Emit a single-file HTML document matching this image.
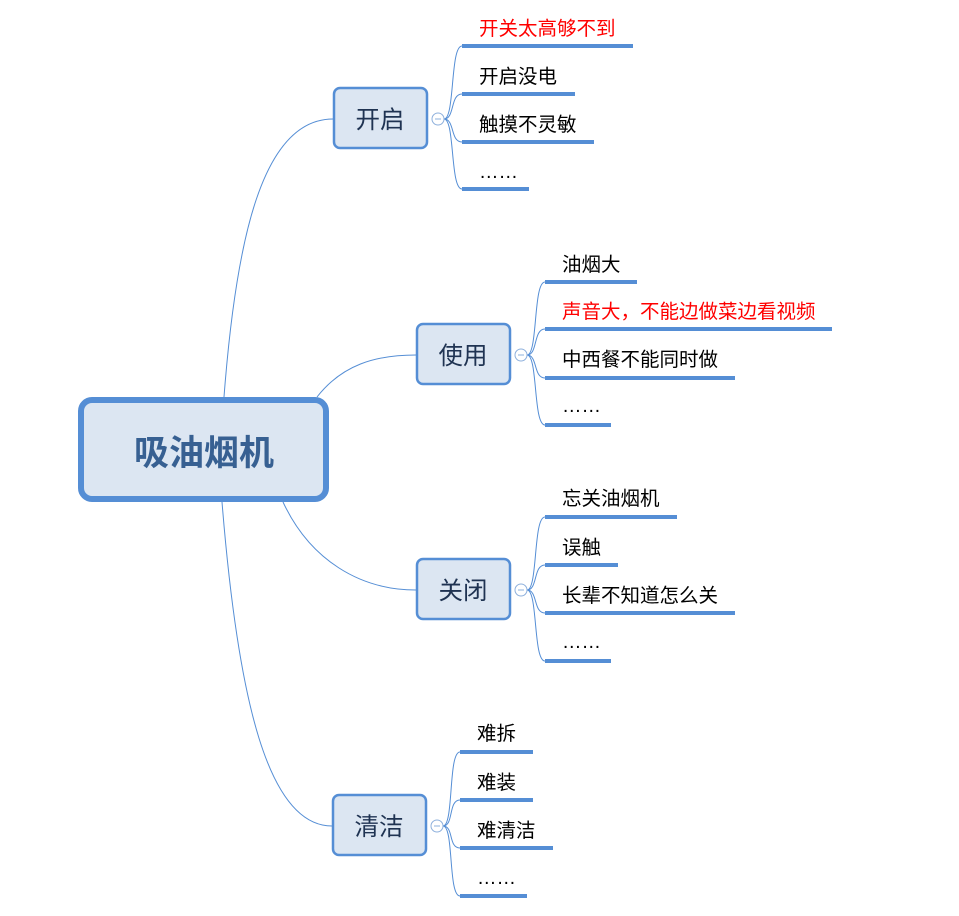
<!DOCTYPE html>
<html><head><meta charset="utf-8"><style>
html,body{margin:0;padding:0;background:#fff;}
svg{display:block;}
text{font-family:"Liberation Sans","Noto Sans CJK SC",sans-serif;}
</style></head><body>
<svg width="959" height="916" viewBox="0 0 959 916" xmlns="http://www.w3.org/2000/svg">
<g fill="none" stroke="#558ed5" stroke-width="1">
<path d="M224,397 C236,240 262,119 333,119"/>
<path d="M317,397 C342,365 375,355 416,355"/>
<path d="M283,502 C310,560 360,590 416,590"/>
<path d="M222,502 C238,700 268,826 332,826"/>
<path d="M444,119 C455,119 450,46 462,46"/>
<path d="M444,119 C455,119 450,94 462,94"/>
<path d="M444,119 C455,119 450,142 462,142"/>
<path d="M444,119 C455,119 450,189 462,189"/>
<path d="M527,355 C538,355 533,282 545,282"/>
<path d="M527,355 C538,355 533,329 545,329"/>
<path d="M527,355 C538,355 533,378 545,378"/>
<path d="M527,355 C538,355 533,425 545,425"/>
<path d="M527,590 C538,590 533,517 545,517"/>
<path d="M527,590 C538,590 533,565 545,565"/>
<path d="M527,590 C538,590 533,613 545,613"/>
<path d="M527,590 C538,590 533,661 545,661"/>
<path d="M443,826 C454,826 448,752 460,752"/>
<path d="M443,826 C454,826 448,800 460,800"/>
<path d="M443,826 C454,826 448,848 460,848"/>
<path d="M443,826 C454,826 448,896 460,896"/>
</g>
<g stroke="#558ed5" stroke-width="4">
<line x1="462" y1="46" x2="633" y2="46"/>
<line x1="462" y1="94" x2="575" y2="94"/>
<line x1="462" y1="142" x2="594" y2="142"/>
<line x1="462" y1="189" x2="529" y2="189"/>
<line x1="545" y1="282" x2="637" y2="282"/>
<line x1="545" y1="329" x2="832" y2="329"/>
<line x1="545" y1="378" x2="735" y2="378"/>
<line x1="545" y1="425" x2="611" y2="425"/>
<line x1="545" y1="517" x2="677" y2="517"/>
<line x1="545" y1="565" x2="618" y2="565"/>
<line x1="545" y1="613" x2="735" y2="613"/>
<line x1="545" y1="661" x2="611" y2="661"/>
<line x1="460" y1="752" x2="533" y2="752"/>
<line x1="460" y1="800" x2="533" y2="800"/>
<line x1="460" y1="848" x2="553" y2="848"/>
<line x1="460" y1="896" x2="527" y2="896"/>
</g>
<g fill="#fff" stroke="#8eb0dc" stroke-width="1">
<circle cx="438" cy="119" r="6"/><circle cx="521" cy="355" r="6"/>
<circle cx="521" cy="590" r="6"/><circle cx="437" cy="826" r="6"/>
</g>
<g stroke="#8eb0dc" stroke-width="1">
<line x1="435" y1="119" x2="441" y2="119"/><line x1="518" y1="355" x2="524" y2="355"/>
<line x1="518" y1="590" x2="524" y2="590"/><line x1="434" y1="826" x2="440" y2="826"/>
</g>
<rect x="81" y="400" width="245" height="99" rx="11" fill="#dce6f2" stroke="#558ed5" stroke-width="6"/>
<g fill="#dce6f2" stroke="#558ed5" stroke-width="2.5">
<rect x="334" y="88" width="93" height="60" rx="6"/>
<rect x="417" y="324" width="93" height="60" rx="6"/>
<rect x="417" y="559" width="93" height="60" rx="6"/>
<rect x="333" y="795" width="93" height="60" rx="6"/>
</g>
<text x="204" y="465" text-anchor="middle" font-size="35" font-weight="bold" fill="#376092">吸油烟机</text>
<g font-size="24.5" fill="#1f3352" text-anchor="middle">
<text x="380" y="128">开启</text>
<text x="463" y="364">使用</text>
<text x="463" y="599">关闭</text>
<text x="379" y="835">清洁</text>
</g>
<g font-size="19.5" fill="#000">
<text x="479" y="35" fill="#ff0000">开关太高够不到</text>
<text x="479" y="83">开启没电</text>
<text x="479" y="131">触摸不灵敏</text>
<text x="479" y="178">……</text>
<text x="562" y="271">油烟大</text>
<text x="562" y="318" fill="#ff0000">声音大，不能边做菜边看视频</text>
<text x="562" y="366">中西餐不能同时做</text>
<text x="562" y="412">……</text>
<text x="562" y="505">忘关油烟机</text>
<text x="562" y="554">误触</text>
<text x="562" y="602">长辈不知道怎么关</text>
<text x="562" y="648">……</text>
<text x="477" y="740">难拆</text>
<text x="477" y="789">难装</text>
<text x="477" y="837">难清洁</text>
<text x="477" y="884">……</text>
</g>
</svg>
</body></html>
